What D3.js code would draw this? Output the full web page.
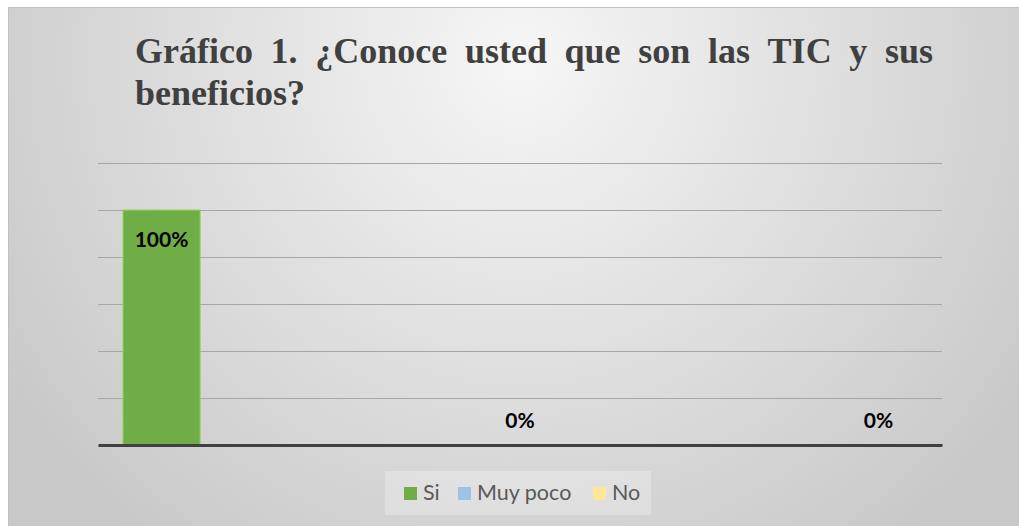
<!DOCTYPE html>
<html><head><meta charset="utf-8">
<script src="https://cdn.jsdelivr.net/npm/d3@7"></script>
<style>body{margin:0;background:#fff;}svg{display:block;}</style>
</head><body>
<svg id="c" width="1019" height="526"></svg>
<script>
const categories = ["Si", "Muy poco", "No"];
const seriesNames = ["Si", "Muy poco", "No"];
const seriesColors = ["#70ad47", "#9dc3e6", "#ffe699"];
// values[series][category]; only the diagonal holds data
const valuesSi = [1.00, null, null];
const valuesMuyPoco = [null, 0, null];
const valuesNo = [null, null, 0];
const yTicks = [0, 0.2, 0.4, 0.6, 0.8, 1.0, 1.2];
const titleLines = ["Gráfico 1. ¿Conoce usted que son las TIC y sus", "beneficios?"];

const series = [valuesSi, valuesMuyPoco, valuesNo];
const svg = d3.select("#c");
const SERIF = '"Liberation Serif"';
const SANS = 'Lato';

// background
const defs = svg.append("defs");
const rg = defs.append("radialGradient").attr("id","bg").attr("gradientUnits","userSpaceOnUse")
  .attr("cx",520).attr("cy",60).attr("r",620);
rg.append("stop").attr("offset","0%").attr("stop-color","#f6f6f6");
rg.append("stop").attr("offset","100%").attr("stop-color","#c8c8c8");
svg.append("rect").attr("x",8.5).attr("y",7.5).attr("width",1030).attr("height",540)
  .attr("fill","url(#bg)").attr("stroke","#c0c0c0").attr("stroke-width",1);

// title (justified first line)
const tg = svg.append("g");
const styleTitle = s => s.style("font-family", SERIF).style("font-weight","bold").style("font-size","36px").attr("fill","#404040");
const tx0 = 135, tx1 = 933;
const words = titleLines[0].split(" ");
const wEls = words.map(w => tg.append("text").call(styleTitle).attr("y",63).text(w));
tg.append("text").call(styleTitle).attr("x",tx0).attr("y",105).text(titleLines[1]);

// scales
const plotL = 98, plotR = 942, plotB = 445;
const y = d3.scaleLinear().domain([0,1.2]).range([plotB, 163]);
const x0 = d3.scaleBand().domain(categories).range([plotL, plotR]).paddingInner(0).paddingOuter(0);
const outer = x0.bandwidth() * 25 / 281.33;
const x1 = d3.scaleBand().domain(seriesNames).range([outer, x0.bandwidth() - outer]).padding(0);

// gridlines
const grid = d3.axisLeft(y).tickValues(yTicks.slice(1)).tickSize(-(plotR-plotL)).tickFormat("");
const gg = svg.append("g").attr("transform",`translate(${plotL},0)`).call(grid);
gg.select(".domain").remove();
gg.selectAll("line").attr("stroke","#a6a6a6").attr("stroke-width",1).attr("shape-rendering","crispEdges");

// bars
const barData = [];
series.forEach((vals, si) => vals.forEach((v, ci) => {
  if (v !== null) barData.push({s: seriesNames[si], c: categories[ci], v, color: seriesColors[si]});
}));
svg.append("g").selectAll("rect").data(barData).join("rect")
  .attr("x", d => x0(d.c) + x1(d.s))
  .attr("y", d => y(d.v))
  .attr("width", x1.bandwidth())
  .attr("height", d => plotB - y(d.v))
  .attr("fill", d => d.color)
  .attr("stroke", d => d3.color(d.color).brighter(0.6))
  .attr("stroke-width", d => d.v > 0 ? 1 : 0);

// baseline axis
const xAxis = d3.axisBottom(x0).tickSize(0).tickFormat("");
const ax = svg.append("g").attr("transform",`translate(0,${plotB})`).call(xAxis);
ax.select(".domain").attr("stroke","#404040").attr("stroke-width",3);

// labels
svg.append("g").selectAll("text").data(barData).join("text")
  .attr("x", d => x0(d.c) + x1(d.s) + x1.bandwidth()/2)
  .attr("y", d => d.v > 0.1 ? y(d.v) + 37 : y(d.v) - 17)
  .attr("text-anchor","middle")
  .style("font-family", SANS).style("font-weight","bold").style("font-size","21px")
  .attr("fill","#000")
  .text(d => d3.format(".0%")(d.v));

// legend
const lg = svg.append("g");
lg.append("rect").attr("x",385).attr("y",471).attr("width",266).attr("height",44).attr("fill","#ffffff").attr("opacity",0.25);
const legX = [404, 458, 593];
seriesNames.forEach((n,i) => {
  lg.append("rect").attr("x",legX[i]).attr("y",487).attr("width",13).attr("height",13).attr("fill",seriesColors[i]);
  lg.append("text").attr("x",legX[i]+19).attr("y",500)
    .style("font-family", SANS).style("font-size","21.5px").attr("fill","#595959").text(n);
});

// justify the first title line once fonts are ready
function justify() {
  const widths = wEls.map(e => e.node().getComputedTextLength());
  const gap = (tx1 - tx0 - d3.sum(widths)) / (words.length - 1);
  let cx = tx0;
  wEls.forEach((e,i) => { e.attr("x", cx); cx += widths[i] + gap; });
}
justify();
if (document.fonts && document.fonts.ready) document.fonts.ready.then(justify);
</script>
</body></html>
